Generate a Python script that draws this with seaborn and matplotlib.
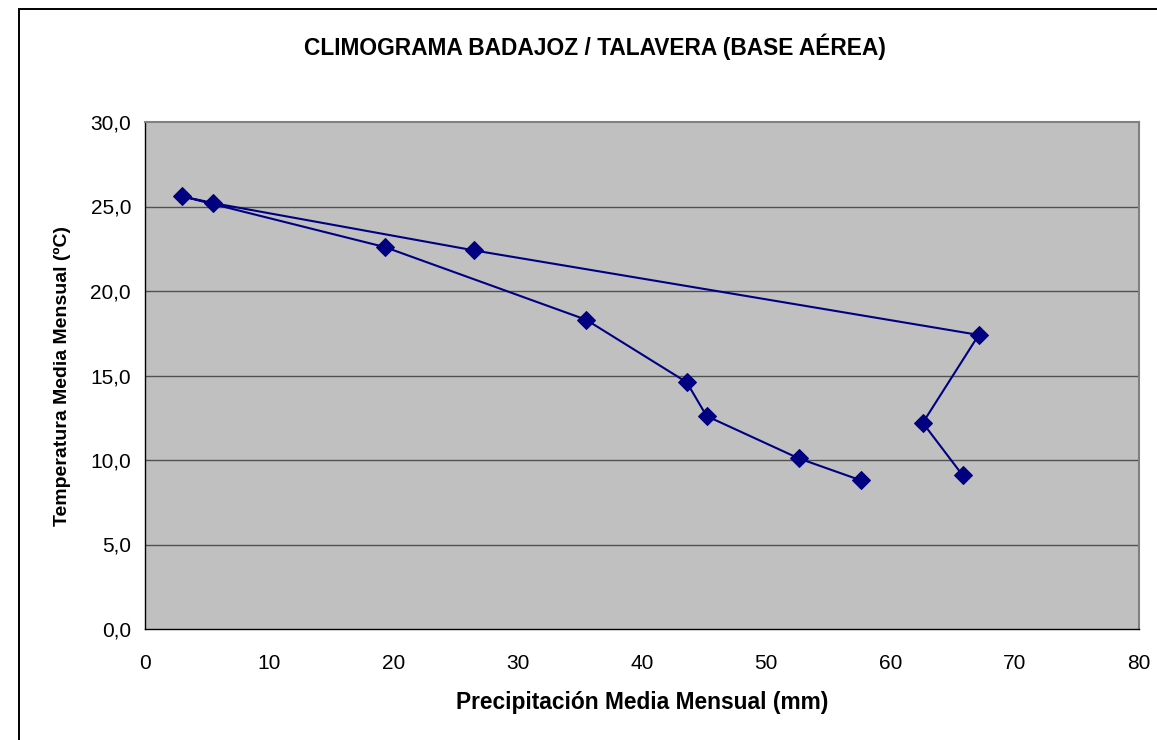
import matplotlib
matplotlib.use("Agg")
import matplotlib.pyplot as plt
import seaborn as sns
import pandas as pd
from matplotlib.patches import Rectangle
from matplotlib.ticker import FuncFormatter

meses = ["Ene", "Feb", "Mar", "Abr", "May", "Jun", "Jul", "Ago", "Sep", "Oct", "Nov", "Dic"]
precipitacion = [57.6, 52.6, 45.2, 43.6, 35.5, 19.3, 3.0, 5.5, 26.5, 67.1, 62.6, 65.8]
temperatura = [8.8, 10.1, 12.6, 14.6, 18.3, 22.6, 25.6, 25.2, 22.4, 17.4, 12.2, 9.1]
x_ticks = [0, 10, 20, 30, 40, 50, 60, 70, 80]
y_ticks = [0, 5, 10, 15, 20, 25, 30]

df = pd.DataFrame({"mes": meses, "precip": precipitacion, "temp": temperatura})

sns.set_style("white")
plt.rcParams["font.family"] = ["Liberation Sans", "DejaVu Sans"]
plt.rcParams["text.color"] = "black"
plt.rcParams["axes.labelcolor"] = "black"

W, H = 1157, 740
fig = plt.figure(figsize=(W / 100, H / 100), dpi=100)
fig.patch.set_facecolor("white")
ax = fig.add_axes([145 / W, 1 - 629 / H, (1139 - 145) / W, (629 - 122) / H])
ax.set_facecolor("#C0C0C0")

# outer chart frame (left and top edges visible)
fig.add_artist(Rectangle((19 / W, -0.05), 1.2, 1 - 9 / H + 0.05, transform=fig.transFigure,
                         fill=False, edgecolor="black", linewidth=1.4, zorder=0))

for yv in y_ticks[1:-1]:
    ax.axhline(yv, color="#505050", linewidth=1.0, zorder=1)

sns.lineplot(data=df, x="precip", y="temp", sort=False, estimator=None, ax=ax,
             color="#000080", linewidth=1.5, marker="D", markersize=9,
             markeredgecolor="#000080", markerfacecolor="#000080", zorder=3)

ax.set_xlim(0, 80)
ax.set_ylim(0, 30)
ax.set_xticks(x_ticks)
ax.set_yticks(y_ticks)
ax.yaxis.set_major_formatter(FuncFormatter(lambda v, p: f"{v:.1f}".replace(".", ",")))
ax.tick_params(axis="both", direction="out", length=5, width=1, color="black",
               labelsize=15, labelcolor="black", pad=13)
ax.tick_params(axis="y", pad=5)

for s in ["top", "right"]:
    ax.spines[s].set_color("#808080")
    ax.spines[s].set_linewidth(1.5)
for s in ["left", "bottom"]:
    ax.spines[s].set_color("black")
    ax.spines[s].set_linewidth(1.0)
for s in ax.spines.values():
    s.set_visible(True)

ax.set_xlabel("Precipitación Media Mensual (mm)", fontsize=16.4, fontweight="bold", labelpad=13)
ax.set_ylabel("Temperatura Media Mensual (ºC)", fontsize=14, fontweight="bold", labelpad=14)
fig.text(595 / W, 1 - 47 / H, "CLIMOGRAMA BADAJOZ / TALAVERA (BASE AÉREA)",
         ha="center", va="center", fontsize=16.4, fontweight="bold")

fig.savefig("out.png", dpi=100)
